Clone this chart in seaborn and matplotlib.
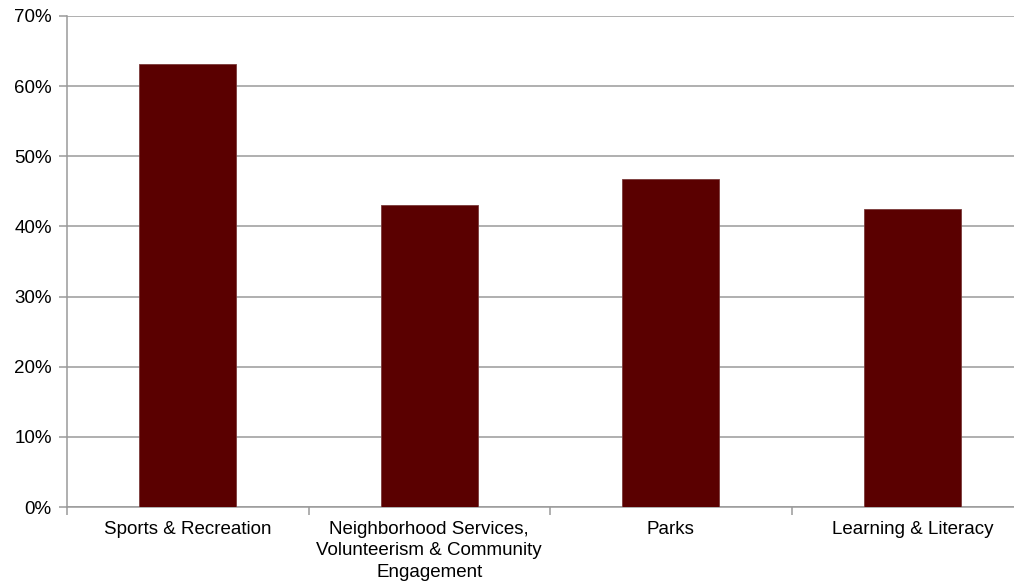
import numpy as np
import pandas as pd
import matplotlib
matplotlib.use('Agg')
import matplotlib.pyplot as plt
import seaborn as sns
from matplotlib.ticker import PercentFormatter, FixedLocator

# Datos
categorias = ['Sports & Recreation',
              'Neighborhood Services,\nVolunteerism & Community\nEngagement',
              'Parks',
              'Learning & Literacy']
valores = [63.1, 43.0, 46.8, 42.5]

df = pd.DataFrame({'categoria': categorias, 'valor': valores})

sns.set_theme(style='white')
plt.rcParams['font.family'] = ['Liberation Sans', 'DejaVu Sans']

fig = plt.figure(figsize=(10.14, 5.84), dpi=100)
ax = fig.add_axes([67 / 1014, 77 / 584, 966 / 1014, 491 / 584])

sns.barplot(data=df, x='categoria', y='valor', color='#5A0000', width=0.4,
            edgecolor='#7a3a3a', linewidth=0.6, saturation=1, ax=ax, zorder=3)

ax.set_ylim(0, 70)
ax.set_xlim(-0.5, 3.5)
ax.set_yticks(range(0, 71, 10))
ax.yaxis.set_major_formatter(PercentFormatter(decimals=0))
ax.yaxis.grid(True, color='#9a9a9a', linewidth=1.1, zorder=0)
ax.set_xlabel('')
ax.set_ylabel('')

# separadores de categorias
ax.xaxis.set_minor_locator(FixedLocator([-0.5, 0.5, 1.5, 2.5, 3.5]))
ax.tick_params(axis='x', which='major', length=0, pad=10, labelsize=13.5, colors='black')
ax.tick_params(axis='x', which='minor', length=6, width=1.1, color='#9a9a9a', direction='out', bottom=True)
ax.tick_params(axis='y', length=6, width=1.1, color='#9a9a9a', direction='out', left=True,
               labelsize=13.5, labelcolor='black', pad=5)

for s in ['top', 'right']:
    ax.spines[s].set_visible(False)
for s in ['left', 'bottom']:
    ax.spines[s].set_color('#9a9a9a')
    ax.spines[s].set_linewidth(1.1)

for lbl in ax.get_xticklabels():
    lbl.set_linespacing(1.35)

fig.savefig('out.png', dpi=100)
